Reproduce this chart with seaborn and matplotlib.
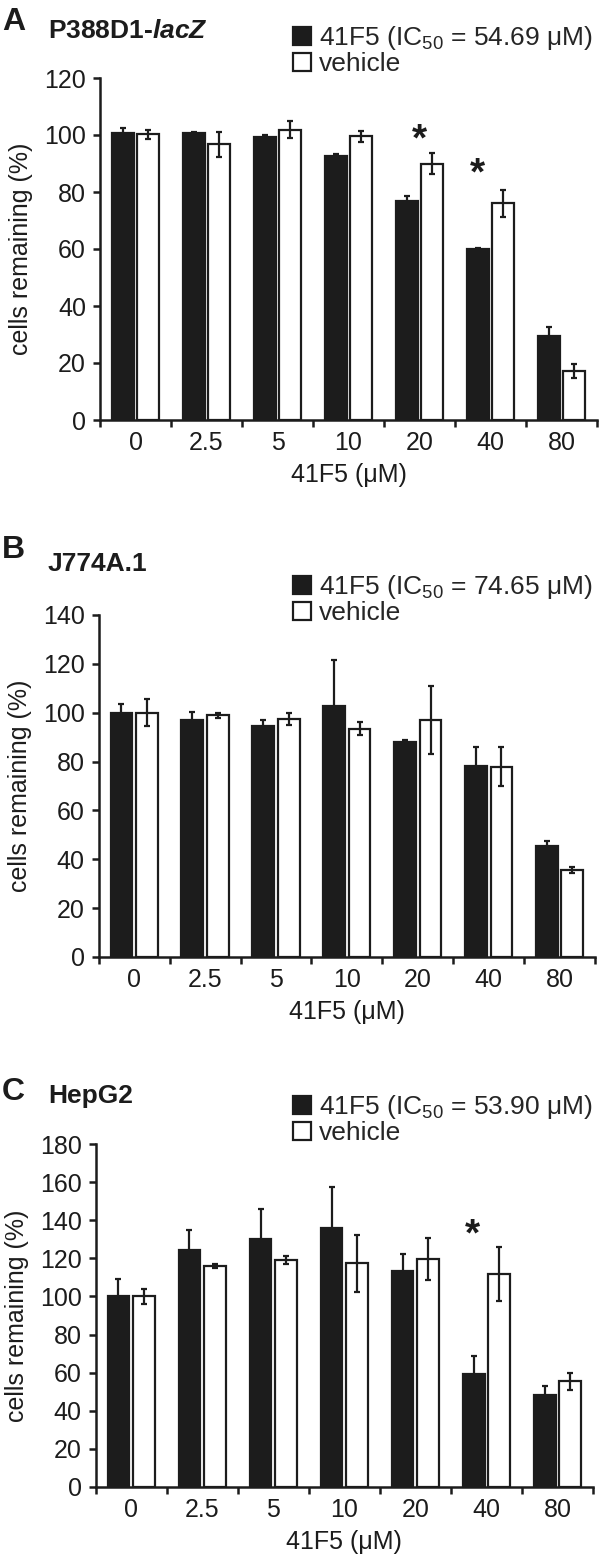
import matplotlib
matplotlib.use("Agg")
import matplotlib.pyplot as plt
import numpy as np
import pandas as pd
import seaborn as sns

sns.set_theme(style="ticks")
plt.rcParams["font.family"] = ["Liberation Sans", "DejaVu Sans"]
plt.rcParams["mathtext.fontset"] = "custom"
plt.rcParams["mathtext.rm"] = "Liberation Sans"
plt.rcParams["mathtext.it"] = "Liberation Sans:italic"
plt.rcParams["mathtext.bf"] = "Liberation Sans:bold"
try:
    plt.rcParams["mathtext.bfit"] = "Liberation Sans:italic:bold"
except KeyError:
    pass

# Data
conc_labels = ["0", "2.5", "5", "10", "20", "40", "80"]
groups = ["41F5", "vehicle"]

a_drug = [100.8, 100.6, 99.4, 92.6, 76.8, 60.0, 29.5]
a_drug_err = [1.5, 0.5, 0.5, 0.8, 1.8, 0.3, 3.0]
a_veh = [100.3, 96.7, 101.8, 99.5, 90.0, 76.0, 17.2]
a_veh_err = [1.6, 4.5, 3.0, 2.0, 3.7, 4.7, 2.6]

b_drug = [100.0, 96.9, 94.6, 102.7, 88.2, 78.2, 45.5]
b_drug_err = [3.7, 3.5, 2.3, 19.0, 0.8, 7.6, 1.9]
b_veh = [100.0, 99.0, 97.3, 93.5, 97.0, 77.9, 35.5]
b_veh_err = [5.5, 1.0, 2.5, 2.5, 14.0, 8.0, 1.2]

c_drug = [100.2, 124.4, 130.4, 136.0, 113.4, 59.3, 48.5]
c_drug_err = [9.0, 10.5, 15.4, 21.5, 8.8, 9.6, 4.4]
c_veh = [100.0, 116.0, 119.0, 117.5, 119.5, 111.7, 55.5]
c_veh_err = [4.0, 1.0, 2.0, 15.0, 11.0, 14.0, 4.5]

a_ic50 = "54.69"
b_ic50 = "74.65"
c_ic50 = "53.90"

# significance stars: (category index, offset, y value)
a_stars = [(4, 0.0, 98), (5, -0.19, 86)]
b_stars = []
c_stars = [(5, -0.19, 132)]

W, H = 600, 1559
fig = plt.figure(figsize=(W / 100, H / 100), dpi=100)


def fx(px):
    return px / W


def fy(py):
    return 1 - py / H


INK = "#1c1c1c"

panels = [
    dict(letter="A", title=r"P388D1-$\bfit{lacZ}$", drug=a_drug, drug_err=a_drug_err,
         veh=a_veh, veh_err=a_veh_err, ic50=a_ic50, ymax=120, stars=a_stars,
         box=(100, 78, 597, 420), letter_y=22, title_y=31, leg_top=24),
    dict(letter="B", title="J774A.1", drug=b_drug, drug_err=b_drug_err,
         veh=b_veh, veh_err=b_veh_err, ic50=b_ic50, ymax=140, stars=b_stars,
         box=(98.7, 615, 595, 957), letter_y=550, title_y=564, leg_top=573),
    dict(letter="C", title="HepG2", drug=c_drug, drug_err=c_drug_err,
         veh=c_veh, veh_err=c_veh_err, ic50=c_ic50, ymax=180, stars=c_stars,
         box=(95.7, 1144, 593, 1487), letter_y=1092, title_y=1096, leg_top=1093),
]

for p in panels:
    x0, y0, x1, y1 = p["box"]
    ax = fig.add_axes([fx(x0), fy(y1), (x1 - x0) / W, (y1 - y0) / H])

    df = pd.DataFrame({
        "conc": conc_labels * 2,
        "group": [groups[0]] * 7 + [groups[1]] * 7,
        "value": p["drug"] + p["veh"],
    })
    sns.barplot(data=df, x="conc", y="value", hue="group", order=conc_labels,
                hue_order=groups, palette=[INK, "white"], saturation=1,
                edgecolor=INK, linewidth=1.6, width=0.72, gap=0.15,
                errorbar=None, ax=ax)

    for cont, err in zip(ax.containers, [p["drug_err"], p["veh_err"]]):
        xs = [b.get_x() + b.get_width() / 2 for b in cont]
        ys = [b.get_height() for b in cont]
        ax.errorbar(xs, ys, yerr=err, fmt="none", ecolor=INK, elinewidth=1.6,
                    capsize=2.5, capthick=1.6, zorder=3)

    for i, off, yv in p["stars"]:
        ax.text(i + off, yv, "*", ha="center", va="center", fontsize=28,
                fontweight="bold", color=INK)

    handles, _ = ax.get_legend_handles_labels()
    ax.get_legend().remove()
    labels = [r"41F5 (IC$_{50}$ = " + p["ic50"] + " μM)", "vehicle"]
    ax.legend(handles, labels, loc="upper left",
              bbox_to_anchor=(fx(293), fy(p["leg_top"])), bbox_transform=fig.transFigure,
              frameon=False, fontsize=19, handlelength=0.7, handleheight=0.7,
              handletextpad=0.3, labelspacing=0.0, borderpad=0, borderaxespad=0)

    ax.set_xlim(-0.5, 6.5)
    ax.set_ylim(0, p["ymax"])
    ax.set_yticks(np.arange(0, p["ymax"] + 1, 20))
    ax.set_xticks(np.arange(-0.5, 7, 1), labels=[""] * 8)
    ax.set_xticks(np.arange(7), labels=conc_labels, minor=True)
    ax.tick_params(axis="x", which="minor", length=0, labelsize=18, pad=8, colors=INK)
    ax.tick_params(axis="x", which="major", length=5, width=1.8, color=INK)
    ax.tick_params(axis="y", length=5, width=1.8, labelsize=18, pad=5, colors=INK)
    sns.despine(ax=ax)
    for s in ["left", "bottom"]:
        ax.spines[s].set_linewidth(1.8)
        ax.spines[s].set_color(INK)

    ax.set_xlabel("41F5 (μM)", fontsize=18, labelpad=6, color=INK)
    ax.set_ylabel("cells remaining (%)", fontsize=18, labelpad=8, color=INK)

    fig.text(fx(2), fy(p["letter_y"]), p["letter"], fontsize=23, fontweight="bold",
             va="center", ha="left", color=INK)
    fig.text(fx(48), fy(p["title_y"]), p["title"], fontsize=19, fontweight="bold",
             va="center", ha="left", color=INK)

fig.savefig("out.png", dpi=100, facecolor="white")
